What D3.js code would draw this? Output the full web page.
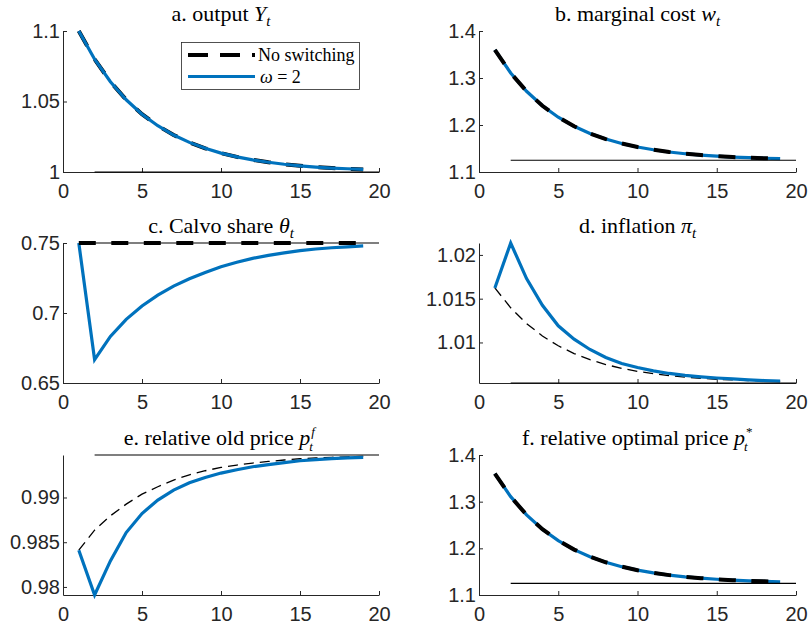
<!DOCTYPE html>
<html>
<head>
<meta charset="utf-8">
<script src="https://cdn.jsdelivr.net/npm/d3@7"></script>
<style>
  body { margin: 0; background: #fff; }
  svg { display: block; }
</style>
</head>
<body>
<script>
// periods after the shock
const periods = [1, 2, 3, 4, 5, 6, 7, 8, 9, 10, 11, 12, 13, 14, 15, 16, 17, 18, 19];
const ssPeriods = [2, 20];
const xTicks = [0, 5, 10, 15, 20];

// a. output
const outputNoSwitch = [1.1000, 1.0800, 1.0640, 1.0512, 1.0410, 1.0328, 1.0262, 1.0210, 1.0168, 1.0134,
                        1.0107, 1.0086, 1.0069, 1.0055, 1.0044, 1.0035, 1.0028, 1.0023, 1.0018];
const outputOmega2 = [1.1000, 1.0800, 1.0640, 1.0512, 1.0410, 1.0328, 1.0262, 1.0210, 1.0168, 1.0134,
                      1.0107, 1.0086, 1.0069, 1.0055, 1.0044, 1.0035, 1.0028, 1.0023, 1.0018];
const outputSS = 1;

// b. marginal cost
const costNoSwitch = [1.3600, 1.3107, 1.2717, 1.2409, 1.2165, 1.1973, 1.1821, 1.1701, 1.1607, 1.1532,
                      1.1473, 1.1426, 1.1389, 1.1360, 1.1337, 1.1318, 1.1304, 1.1293, 1.1284];
const costOmega2 = [1.3600, 1.3107, 1.2717, 1.2409, 1.2165, 1.1973, 1.1821, 1.1701, 1.1607, 1.1532,
                    1.1473, 1.1426, 1.1389, 1.1360, 1.1337, 1.1318, 1.1304, 1.1293, 1.1284];
const costSS = 1.125;

// c. Calvo share
const calvoNoSwitch = [0.75, 0.75, 0.75, 0.75, 0.75, 0.75, 0.75, 0.75, 0.75, 0.75,
                       0.75, 0.75, 0.75, 0.75, 0.75, 0.75, 0.75, 0.75, 0.75];
const calvoOmega2 = [0.7500, 0.6667, 0.6833, 0.6955, 0.7050, 0.7128, 0.7192, 0.7244, 0.7290, 0.7330,
                     0.7362, 0.7390, 0.7412, 0.7430, 0.7445, 0.7457, 0.7466, 0.7473, 0.7479];
const calvoSS = 0.75;

// d. inflation
const inflNoSwitch = [1.01623, 1.01396, 1.01216, 1.01074, 1.00962, 1.00873, 1.00803, 1.00748, 1.00704, 1.00670,
                      1.00643, 1.00621, 1.00604, 1.00591, 1.00580, 1.00572, 1.00565, 1.00560, 1.00556];
const inflOmega2 = [1.01623, 1.02136, 1.01729, 1.01424, 1.01190, 1.01038, 1.00920, 1.00828, 1.00760, 1.00714,
                    1.00676, 1.00646, 1.00624, 1.00607, 1.00594, 1.00583, 1.00573, 1.00565, 1.00558];
const inflSS = 1.00537;

// e. relative old price
const oldNoSwitch = [0.98411, 0.98635, 0.98795, 0.98926, 0.99038, 0.99120, 0.99195, 0.99254, 0.99299, 0.99336,
                     0.99363, 0.99385, 0.99403, 0.99419, 0.99433, 0.99442, 0.99449, 0.99455, 0.99459];
const oldOmega2 = [0.98411, 0.97910, 0.98291, 0.98608, 0.98821, 0.98971, 0.99083, 0.99165, 0.99224, 0.99273,
                   0.99310, 0.99344, 0.99368, 0.99390, 0.99411, 0.99424, 0.99434, 0.99442, 0.99448];
const oldSS = 0.99475;

// f. relative optimal price
const optNoSwitch = [1.3600, 1.3107, 1.2717, 1.2409, 1.2165, 1.1973, 1.1821, 1.1701, 1.1607, 1.1532,
                     1.1473, 1.1426, 1.1389, 1.1360, 1.1337, 1.1318, 1.1304, 1.1293, 1.1284];
const optOmega2 = [1.3600, 1.3107, 1.2717, 1.2409, 1.2165, 1.1973, 1.1821, 1.1701, 1.1607, 1.1532,
                   1.1473, 1.1426, 1.1389, 1.1360, 1.1337, 1.1318, 1.1304, 1.1293, 1.1284];
const optSS = 1.125;

const legendLabels = ["No switching", "\u03c9 = 2"];

// look
const BLUE = "#0072BD";
const INK = "#262626";
const tickFont = "'Liberation Sans', Arial, sans-serif";
const texFont = "'Liberation Serif', 'Times New Roman', serif";
const styles = {
    thick: { stroke: "#000", width: 4, dash: "17,15.5" },
    thin: { stroke: "#000", width: 1.3, dash: "10,6" },
    blue: { stroke: BLUE, width: 3.2, dash: null }
};

const cols = [[63, 379], [479, 796]];
const rows = [[31, 172], [243, 383], [455, 595]];

// title pieces: [text, kind] where kind is "" | "i" | "sub" | "supsub"
const panels = [
    { col: 0, row: 0, title: [["a. output ", ""], ["Y", "i"], ["t", "sub"]],
      domain: [1, 1.1], yTicks: [1, 1.05, 1.1], ss: outputSS, legend: true,
      series: [[outputNoSwitch, "thick"], [outputOmega2, "blue"]] },
    { col: 1, row: 0, title: [["b. marginal cost ", ""], ["w", "i"], ["t", "sub"]],
      domain: [1.1, 1.4], yTicks: [1.1, 1.2, 1.3, 1.4], ss: costSS,
      series: [[costOmega2, "blue"], [costNoSwitch, "thick"]] },
    { col: 0, row: 1, title: [["c. Calvo share ", ""], ["\u03b8", "i"], ["t", "sub"]],
      domain: [0.65, 0.75], yTicks: [0.65, 0.7, 0.75], ss: calvoSS,
      series: [[calvoOmega2, "blue"], [calvoNoSwitch, "thick"]] },
    { col: 1, row: 1, title: [["d. inflation ", ""], ["\u03c0", "i"], ["t", "sub"]],
      domain: null, yTicks: [1.01, 1.015, 1.02], ss: inflSS,
      series: [[inflNoSwitch, "thin"], [inflOmega2, "blue"]] },
    { col: 0, row: 2, title: [["e. relative old price ", ""], ["p", "i"], ["f|t", "supsub"]],
      domain: null, yTicks: [0.98, 0.985, 0.99], ss: oldSS,
      series: [[oldNoSwitch, "thin"], [oldOmega2, "blue"]] },
    { col: 1, row: 2, title: [["f. relative optimal price ", ""], ["p", "i"], ["*|t", "supsub"]],
      domain: [1.1, 1.4], yTicks: [1.1, 1.2, 1.3, 1.4], ss: optSS,
      series: [[optOmega2, "blue"], [optNoSwitch, "thick"]] }
];

const svg = d3.select("body").append("svg")
    .attr("width", 808)
    .attr("height", 628)
    .style("background", "#fff");

const fmt = d3.format("~g");

panels.forEach(function(p) {
    const [x0, x1] = cols[p.col];
    const [y0, y1] = rows[p.row];

    let domain = p.domain;
    if (!domain) {
        // tight limits around everything drawn
        const all = p.series.flatMap(s => s[0]).concat([p.ss]);
        domain = d3.extent(all);
    }

    const x = d3.scaleLinear().domain([0, 20]).range([x0, x1]);
    const y = d3.scaleLinear().domain(domain).range([y1, y0]);

    const g = svg.append("g");

    // axes, ticks pointing inwards like matlab
    const xAxis = g.append("g")
        .attr("transform", `translate(0,${y1})`)
        .call(d3.axisBottom(x).tickValues(xTicks).tickFormat(fmt)
            .tickSizeInner(-4).tickSizeOuter(0).tickPadding(12));
    const yAxis = g.append("g")
        .attr("transform", `translate(${x0},0)`)
        .call(d3.axisLeft(y).tickValues(p.yTicks).tickFormat(fmt)
            .tickSizeInner(-4).tickSizeOuter(0).tickPadding(3));
    [xAxis, yAxis].forEach(a => {
        a.select(".domain").attr("stroke", INK).attr("stroke-width", 1);
        a.selectAll(".tick line").attr("stroke", INK).attr("stroke-width", 1);
        a.selectAll(".tick text")
            .attr("fill", INK)
            .attr("font-family", tickFont)
            .attr("font-size", 20);
    });

    // curves
    const line = d3.line()
        .x((d, i) => x(periods[i]))
        .y(d => y(d));
    p.series.forEach(function([values, key]) {
        const st = styles[key];
        g.append("path")
            .datum(values)
            .attr("d", line)
            .attr("fill", "none")
            .attr("stroke", st.stroke)
            .attr("stroke-width", st.width)
            .attr("stroke-dasharray", st.dash)
            .attr("stroke-linejoin", "miter");
    });

    // steady state
    g.append("line")
        .attr("x1", x(ssPeriods[0]))
        .attr("x2", x(ssPeriods[1]))
        .attr("y1", y(p.ss))
        .attr("y2", y(p.ss))
        .attr("stroke", "#000")
        .attr("stroke-width", 1.2);

    // title
    const title = g.append("text")
        .attr("x", (x0 + x1) / 2)
        .attr("y", y0 - 10)
        .attr("text-anchor", "middle")
        .attr("font-family", texFont)
        .attr("font-size", 22)
        .attr("fill", "#000");
    p.title.forEach(function([t, kind]) {
        if (kind === "") {
            title.append("tspan").text(t).style("white-space", "pre");
        } else if (kind === "i") {
            title.append("tspan").attr("font-style", "italic").text(t);
        } else if (kind === "sub") {
            title.append("tspan").attr("font-style", "italic")
                .attr("font-size", 15).attr("dy", 5).text(t);
        } else {
            // stacked super/subscript as two separate texts so they do not collide
            const [sup, sub] = t.split("|");
            title.attr("x", (x0 + x1) / 2 - 4);
            const bb = title.node().getBBox();
            const sx = bb.x + bb.width;
            g.append("text")
                .attr("x", sx + 1).attr("y", y0 - 19)
                .attr("font-family", texFont)
                .attr("font-size", 13)
                .attr("font-style", sup === "*" ? "normal" : "italic")
                .text(sup);
            g.append("text")
                .attr("x", sx - 1).attr("y", y0 - 4)
                .attr("font-family", texFont)
                .attr("font-size", 13)
                .attr("font-style", "italic")
                .text(sub);
        }
    });

    if (p.legend) {
        const lg = g.append("g");
        lg.append("rect")
            .attr("x", 181.5).attr("y", 42.5)
            .attr("width", 178).attr("height", 47)
            .attr("fill", "#fff")
            .attr("stroke", INK)
            .attr("stroke-width", 0.8);
        lg.append("line")
            .attr("x1", 188).attr("x2", 255).attr("y1", 55).attr("y2", 55)
            .attr("stroke", "#000").attr("stroke-width", 4)
            .attr("stroke-dasharray", "20,12");
        lg.append("line")
            .attr("x1", 188).attr("x2", 255).attr("y1", 76.5).attr("y2", 76.5)
            .attr("stroke", BLUE).attr("stroke-width", 3);
        lg.append("text")
            .attr("x", 258).attr("y", 61)
            .attr("font-family", texFont).attr("font-size", 18)
            .text(legendLabels[0]);
        const t2 = lg.append("text")
            .attr("x", 260).attr("y", 82.5)
            .attr("font-family", texFont).attr("font-size", 18);
        t2.append("tspan").attr("font-style", "italic").text(legendLabels[1].slice(0, 1));
        t2.append("tspan").style("white-space", "pre").text(legendLabels[1].slice(1));
    }
});
</script>
</body>
</html>
